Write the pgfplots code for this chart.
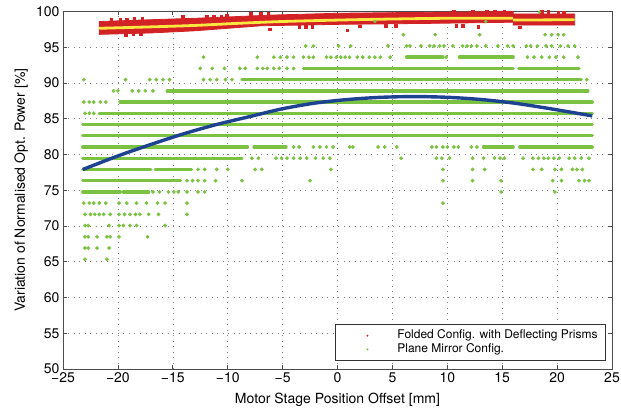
\documentclass[border=0pt]{standalone}
\usepackage{fontspec}
\setmainfont{TeX Gyre Heros}
\usepackage{pgfplots}
\pgfplotsset{compat=1.18}
\definecolor{cRed}{RGB}{210,34,38}
\definecolor{cYel}{RGB}{250,232,64}
\definecolor{cGrn}{RGB}{124,194,66}
\definecolor{cBlu}{RGB}{30,66,146}

\begin{document}
\begin{tikzpicture}
\begin{axis}[
  scale only axis, width=549pt, height=357.5pt,
  xmin=-25, xmax=25, ymin=50, ymax=100,
  xtick={-25,-20,...,25}, ytick={50,55,...,100},
  xticklabels={−25,−20,−15,−10,−5,0,5,10,15,20,25},
  /pgf/number format/assume math mode=true,
  grid=major, grid style={black!50, line width=0.5pt, dash pattern=on 0.6pt off 4.9pt},
  axis line style={black!70, line width=0.8pt},
  tick style={black!70, line width=0.7pt}, major tick length=4pt,
  tick label style={font=\fontsize{14}{16}\selectfont},
  label style={font=\fontsize{14}{16}\selectfont},
  xlabel={Motor Stage Position Offset [mm]},
  ylabel={Variation of Normalised Opt. Power [\%]},
  xlabel style={at={(axis description cs:0.5,-0.087)}, anchor=center},
  ylabel style={at={(axis description cs:-0.076,0.5)}, anchor=center},
  unbounded coords=jump,
  legend cell align=left,
  legend image code/.code={\path[draw=none, fill=none] (-28pt,-2pt) rectangle (26pt,2pt);
    \fill[#1, draw=none] (0pt,0pt) circle (1.1pt);},
  legend style={at={(rel axis cs:0.989,0.022)}, anchor=south east,
    draw=black!80, line width=0.7pt, fill=white, inner xsep=4pt, inner ysep=4.5pt,
    font=\fontsize{12}{14}\selectfont,
    nodes={inner ysep=0.6pt, inner xsep=4pt, text height=9.5pt, text depth=3pt}},
]
% ===== plane mirror config: dense runs (green) =====
\addplot[forget plot, cGrn, line width=3.4pt, line cap=round] coordinates {
  (6.3,93.61) (9.6,93.61) (0,nan) (11.1,93.61) (16.0,93.61) (0,nan)
  (-3.1,92.04) (16.0,92.04) (0,nan) (16.5,92.04) (22.0,92.04) (0,nan)
  (-8.7,90.47) (22.2,90.47) (0,nan)
  (-15.5,88.90) (22.8,88.90) (0,nan)
  (-19.8,87.33) (23.2,87.33) (0,nan)
  (-21.7,85.76) (23.2,85.76) (0,nan)
  (-23.2,84.19) (23.2,84.19) (0,nan)
  (-23.2,82.62) (23.2,82.62) (0,nan)
  (-23.2,81.05) (-8.2,81.05) (0,nan) (-7.6,81.05) (-4.7,81.05) (0,nan)
  (13.3,81.05) (16.0,81.05) (0,nan) (16.6,81.05) (23.2,81.05) (0,nan)
  (-23.2,79.48) (-8.7,79.48) (0,nan)
  (-23.2,77.91) (-17.0,77.91) (0,nan) (-16.6,77.91) (-13.3,77.91) (0,nan)
  (-23.2,76.34) (-14.3,76.34) (0,nan)
  (-23.2,74.77) (-19.8,74.77) (0,nan) (-19.5,74.77) (-17.2,74.77)
};
% ===== plane mirror config: single points (green) =====
\addplot[forget plot, only marks, mark=*, mark size=1.7pt, cGrn] coordinates {
  (6.0,96.75) (8.9,96.75) (12.95,96.75) (18.9,96.75) (19.5,96.75) (20.1,96.75) (20.6,96.75)
  (-2.9,95.18) (-2.2,95.18) (0.1,95.18) (1.2,95.18) (4.6,95.18) (6.3,95.18) (6.6,95.18)
  (7.6,95.18) (8.4,95.18) (8.8,95.18) (9.3,95.18) (9.7,95.18) (10.5,95.18) (11.4,95.18)
  (11.8,95.18) (12.2,95.18) (12.7,95.18) (13.5,95.18) (14.6,95.18) (15.5,95.18) (16.0,95.18)
  (17.2,95.18) (17.6,95.18) (18.2,95.18) (19.0,95.18) (19.5,95.18) (20.3,95.18) (21.0,95.18) (21.6,95.18)
  (-12.2,93.61) (-7.3,93.61) (-5.8,93.61) (-5.2,93.61) (-4.6,93.61) (-4.0,93.61) (-3.1,93.61)
  (-2.6,93.61) (-2.2,93.61) (-1.0,93.61) (-0.6,93.61) (-0.1,93.61) (0.3,93.61) (0.7,93.61)
  (1.1,93.61) (1.8,93.61) (2.3,93.61) (2.9,93.61) (3.4,93.61) (3.9,93.61) (4.8,93.61) (9.9,93.61)
  (17.3,93.61) (17.9,93.61) (18.6,93.61) (19.3,93.61) (19.9,93.61) (20.6,93.61) (21.9,93.61)
  (-12.5,92.04) (-11.4,92.04) (-10.3,92.04) (-8.9,92.04) (-8.4,92.04) (-7.3,92.04) (-6.8,92.04)
  (-6.4,92.04) (-5.8,92.04) (-5.3,92.04) (-4.6,92.04) (-4.0,92.04)
  (-23.1,90.47) (-19.3,90.47) (-17.1,90.47) (-16.5,90.47) (-15.9,90.47) (-15.3,90.47)
  (-12.2,90.47) (-11.6,90.47) (-11.0,90.47) (-10.2,90.47) (-9.6,90.47) (22.7,90.47)
  (-20.4,88.90) (-20.0,88.90) (-18.7,88.90) (-18.1,88.90) (-17.5,88.90) (-16.8,88.90)
  (-23.1,87.33) (-22.6,87.33) (-22.2,87.33) (-21.6,87.33) (-21.1,87.33)
  (-23.0,85.76) (-22.6,85.76) (-22.2,85.76)
  (-4.0,81.05) (-3.5,81.05) (-2.2,81.05) (-1.6,81.05) (-1.0,81.05) (-0.4,81.05) (1.1,81.05)
  (1.4,81.05) (3.7,81.05) (4.3,81.05) (5.4,81.05) (8.6,81.05) (9.0,81.05) (9.6,81.05)
  (10.0,81.05) (10.6,81.05) (11.0,81.05) (12.2,81.05) (12.7,81.05)
  (-7.8,79.48) (-7.2,79.48) (-5.6,79.48) (-5.1,79.48) (-4.6,79.48) (-4.0,79.48) (-3.4,79.48)
  (-2.8,79.48) (-2.0,79.48) (-1.3,79.48) (-0.7,79.48) (5.8,79.48) (9.0,79.48) (9.5,79.48)
  (10.2,79.48) (12.3,79.48) (13.3,79.48) (14.3,79.48) (14.8,79.48) (15.2,79.48) (16.9,79.48)
  (17.8,79.48) (18.3,79.48) (18.8,79.48) (19.2,79.48) (19.7,79.48) (20.2,79.48) (21.1,79.48)
  (21.6,79.48) (22.2,79.48) (22.9,79.48)
  (-12.7,77.91) (-12.1,77.91) (-11.0,77.91) (-10.0,77.91) (-7.5,77.91) (-6.9,77.91) (-0.6,77.91)
  (9.6,77.91) (12.3,77.91) (13.4,77.91) (17.8,77.91) (18.6,77.91) (19.8,77.91) (20.4,77.91)
  (21.4,77.91) (21.8,77.91) (22.3,77.91)
  (-13.7,76.34) (-13.2,76.34) (-12.7,76.34) (-12.1,76.34) (-11.1,76.34) (-8.7,76.34) (-2.5,76.34)
  (9.6,76.34) (12.3,76.34) (14.9,76.34) (19.6,76.34) (20.4,76.34) (22.0,76.34) (22.5,76.34) (22.9,76.34)
  (-16.8,74.77) (-16.2,74.77) (-15.4,74.77) (-14.9,74.77) (-14.5,74.77) (-13.7,74.77)
  (-12.7,74.77) (-12.1,74.77) (14.9,74.77) (19.8,74.77)
  (-23.1,73.20) (-22.6,73.20) (-22.2,73.20) (-21.7,73.20) (-21.1,73.20) (-19.9,73.20)
  (-19.2,73.20) (-18.3,73.20) (-17.4,73.20) (-16.4,73.20) (-15.7,73.20) (-13.7,73.20) (9.6,73.20)
  (-23.0,71.63) (-22.5,71.63) (-22.1,71.63) (-21.7,71.63) (-21.3,71.63) (-20.7,71.63)
  (-19.9,71.63) (-19.4,71.63) (-18.9,71.63) (-18.4,71.63) (-18.0,71.63) (-17.2,71.63)
  (-16.3,71.63) (-13.7,71.63)
  (-23.0,70.06) (-22.7,70.06) (-20.8,70.06) (-19.9,70.06) (-19.5,70.06) (-18.9,70.06)
  (-18.3,70.06) (-15.7,70.06)
  (-23.0,68.49) (-22.7,68.49) (-21.9,68.49) (-21.0,68.49) (-20.7,68.49) (-19.9,68.49) (-17.3,68.49)
  (-23.0,66.92) (-22.7,66.92) (-21.9,66.92) (-20.8,66.92)
  (-23.0,65.35) (-21.0,65.35)
};
% ===== fit of plane mirror config (blue) =====
\addplot[forget plot, cBlu, line width=3.4pt, smooth] coordinates {
  (-23.2,77.9) (-20,79.8) (-17,81.4) (-14,82.9) (-11,84.2) (-8,85.3) (-5,86.4)
  (-2,87.2) (1,87.7) (4,88.0) (7,88.1) (10,88.0) (13,87.7) (16,87.2) (19,86.5) (23.2,85.4)
};
% ===== folded config. with deflecting prisms: dense band (red) =====
\addplot[forget plot, fill=cRed, draw=cRed, line width=0.8pt] coordinates {
  (-21.7,96.8) (-21.7,98.6) (-17,98.85) (-13,99.05) (-9,99.3) (-6,99.5) (0,99.75)
  (9,99.9) (16,100) (16,99.65) (21.6,99.65) (21.6,98.1) (16,98.1) (16,98.5)
  (9,98.35) (0,98.2) (-7,98.0) (-13,97.3) (-17,97.0)
} -- cycle;
\addplot[forget plot, only marks, mark=square*, mark size=1.3pt, cRed] coordinates {
  (-20.6,98.85) (-19.8,98.9) (-19.2,98.95) (-18.5,99.0) (-17.8,99.0) (-14.1,99.25)
  (-11.9,99.3) (-11.3,99.35) (-10.6,99.35) (-10.1,99.4) (-7.9,99.65) (-7.0,99.7) (-6.3,99.7)
  (8.3,100.1) (8.8,100.1) (10.6,100.0) (12.3,100.0) (13.6,100.0) (14.3,100.0) (15.2,100.0)
  (18.6,99.95) (19.2,99.95) (20.1,99.9) (20.6,99.9)
  (-19.3,96.75) (-18.6,96.8) (-17.9,96.85) (-6.2,97.5) (-3.5,97.9) (-2.9,97.85) (-2.3,97.9)
  (0.9,97.4) (2.0,97.95) (4.4,98.0) (5.3,98.0) (10.8,98.0) (11.4,98.05) (12.8,97.9) (16.6,97.8)
};
% ===== fit of folded config (yellow) =====
\addplot[forget plot, cYel, line width=2.8pt, smooth] coordinates {
  (-21.7,97.65) (-17,97.85) (-13,98.05) (-9,98.35) (-5,98.6) (0,98.8) (5,98.95) (10,99.05) (16,99.05)
};
\addplot[forget plot, cYel, line width=2.8pt] coordinates {(16,98.8) (21.6,98.85)};
% green points lying on the red band
\addplot[forget plot, only marks, mark=*, mark size=1.5pt, cGrn] coordinates {
  (3.4,98.6) (13.5,98.6) (18.4,99.9)};
% ===== legend =====
\addlegendimage{only marks, mark=*, mark size=1.1pt, cRed}
\addlegendentry{Folded Config. with Deflecting Prisms}
\addlegendimage{only marks, mark=*, mark size=1.1pt, cGrn}
\addlegendentry{Plane Mirror Config.}
\end{axis}
\pgfresetboundingbox
\path ([xshift=-63pt,yshift=-43pt]current axis.south west)
  rectangle ([xshift=9pt,yshift=11.5pt]current axis.north east);
\end{tikzpicture}
\end{document}
